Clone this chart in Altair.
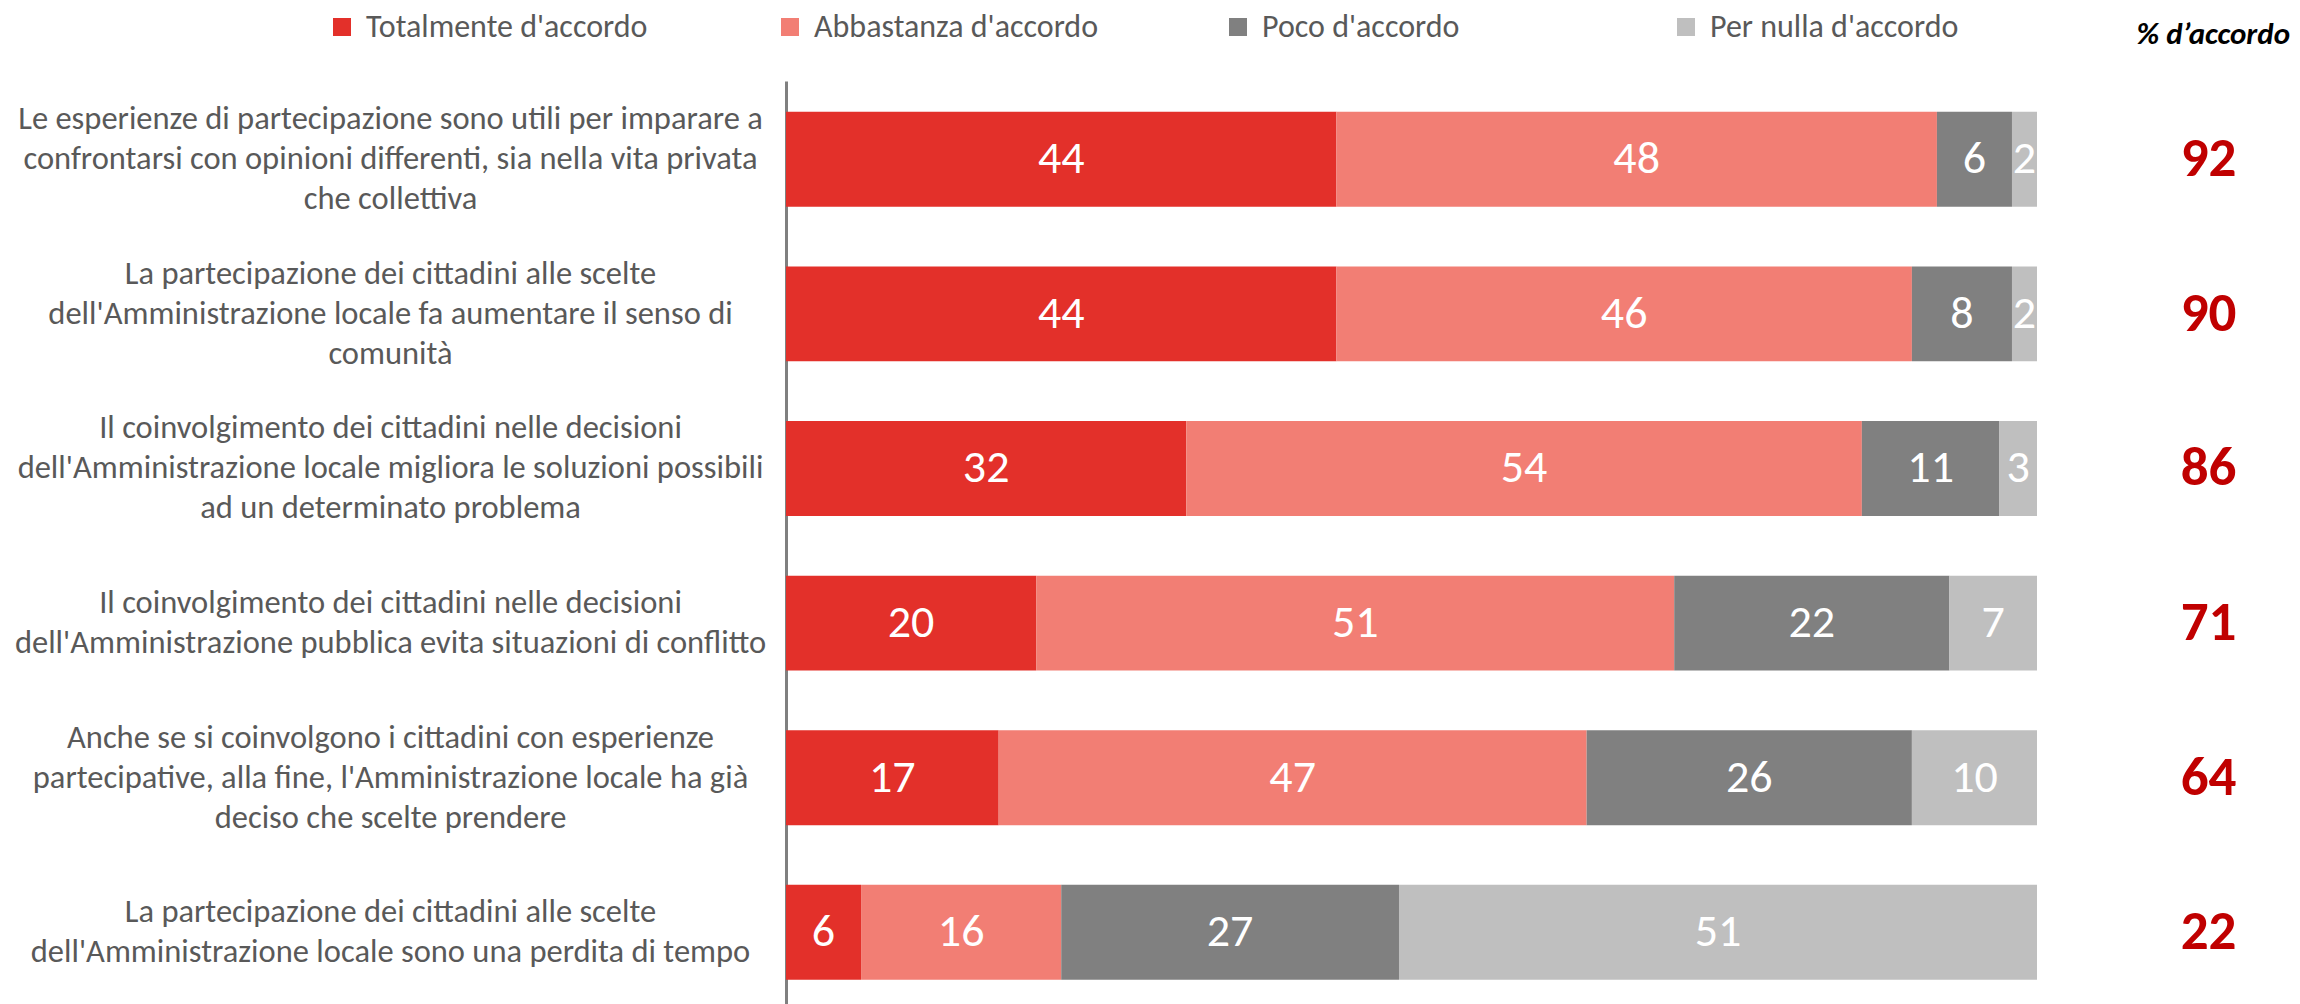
import altair as alt
import pandas as pd

categories = [
    "Le esperienze di partecipazione sono utili per imparare a|confrontarsi con opinioni differenti, sia nella vita privata|che collettiva",
    "La partecipazione dei cittadini alle scelte|dell'Amministrazione locale fa aumentare il senso di|comunità",
    "Il coinvolgimento dei cittadini nelle decisioni|dell'Amministrazione locale migliora le soluzioni possibili|ad un determinato problema",
    "Il coinvolgimento dei cittadini nelle decisioni|dell'Amministrazione pubblica evita situazioni di conflitto",
    "Anche se si coinvolgono i cittadini con esperienze|partecipative, alla fine, l'Amministrazione locale ha già|deciso che scelte prendere",
    "La partecipazione dei cittadini alle scelte|dell'Amministrazione locale sono una perdita di tempo",
]
totalmente = [44, 44, 32, 20, 17, 6]
abbastanza = [48, 46, 54, 51, 47, 16]
poco = [6, 8, 11, 22, 26, 27]
per_nulla = [2, 2, 3, 7, 10, 51]
accordo = [92, 90, 86, 71, 64, 22]

series = ["Totalmente d'accordo", "Abbastanza d'accordo", "Poco d'accordo", "Per nulla d'accordo"]
colors = ["#E3302A", "#F27E74", "#808080", "#BFBFBF"]

keys = [f"{c}#{t}" for c, t in zip(categories, accordo)]
rows = []
for i, k in enumerate(keys):
    for j, vals in enumerate([totalmente, abbastanza, poco, per_nulla]):
        rows.append({"key": k, "serie": series[j], "order": j, "value": vals[i]})
df = pd.DataFrame(rows)

FONT = "Carlito, 'Liberation Sans Narrow', 'Open Sans', sans-serif"
LH = 40

yscale = alt.Scale(paddingInner=0.386, paddingOuter=0.178, align=0.56)
xscale = alt.Scale(domain=[0, 100], nice=False)

base = alt.Chart(df).transform_stack(
    stack="value", groupby=["key"], as_=["x0", "x1"], sort=[alt.SortField("order")]
).transform_calculate(mid="(datum.x0 + datum.x1) / 2")

bars = base.mark_bar(strokeWidth=0).encode(
    y=alt.Y("key:N", sort=keys, title=None, scale=yscale,
            axis=alt.Axis(orient="left",
                          labelExpr="split(split(datum.value, '#')[0], '|')",
                          labelAlign="center", labelBaseline="middle",
                          labelOffset={"condition": {"test": "length(split(datum.value, '|')) == 3",
                                                     "value": -LH},
                                       "value": -LH / 2},
                          labelPadding=396, labelFontSize=32.5, labelLineHeight=LH,
                          labelColor="#595959", labelFont=FONT, labelLimit=0,
                          ticks=False, domainColor="#808080", domainWidth=3,
                          grid=False)),
    x=alt.X("x0:Q", scale=xscale, axis=None),
    x2="x1:Q",
    color=alt.Color("serie:N", scale=alt.Scale(domain=series, range=colors),
                    legend=alt.Legend(orient="none", direction="horizontal", columns=4,
                                      legendX=-460, legendY=-70, title=None,
                                      symbolType="square", symbolSize=324,
                                      symbolStrokeWidth=0, labelFontSize=32,
                                      labelColor="#595959", labelFont=FONT,
                                      labelLimit=0, labelOffset=8, gridAlign="all",
                                      columnPadding=123)),
)

texts = base.mark_text(color="white", fontSize=46, font=FONT,
                       align="center", baseline="middle").encode(
    y=alt.Y("key:N", sort=keys, title=None, scale=yscale,
            axis=alt.Axis(orient="right",
                          labelExpr="split(datum.value, '#')[1]",
                          labelAlign="center", labelBaseline="middle",
                          labelPadding=171, labelFontSize=55, labelFontWeight="bold",
                          labelColor="#C00000", labelFont=FONT, labelLimit=0,
                          ticks=False, domain=False, grid=False)),
    x=alt.X("mid:Q", scale=xscale, axis=None),
    text=alt.Text("value:Q"),
)

chart = alt.layer(bars, texts).resolve_axis(y="independent").properties(
    width=1251, height=923,
    padding={"left": 778, "top": 73, "right": 255, "bottom": 0},
    autosize=alt.AutoSizeParams(type="none"),
    title=alt.TitleParams(text="% d\u2019accordo", anchor="end", frame="group",
                          font=FONT, fontSize=31, fontStyle="italic",
                          fontWeight="bold", color="black", dx=253, offset=-40),
).configure_view(stroke=None)

chart.save("out.html", embed_options={"renderer": "svg", "actions": False})
